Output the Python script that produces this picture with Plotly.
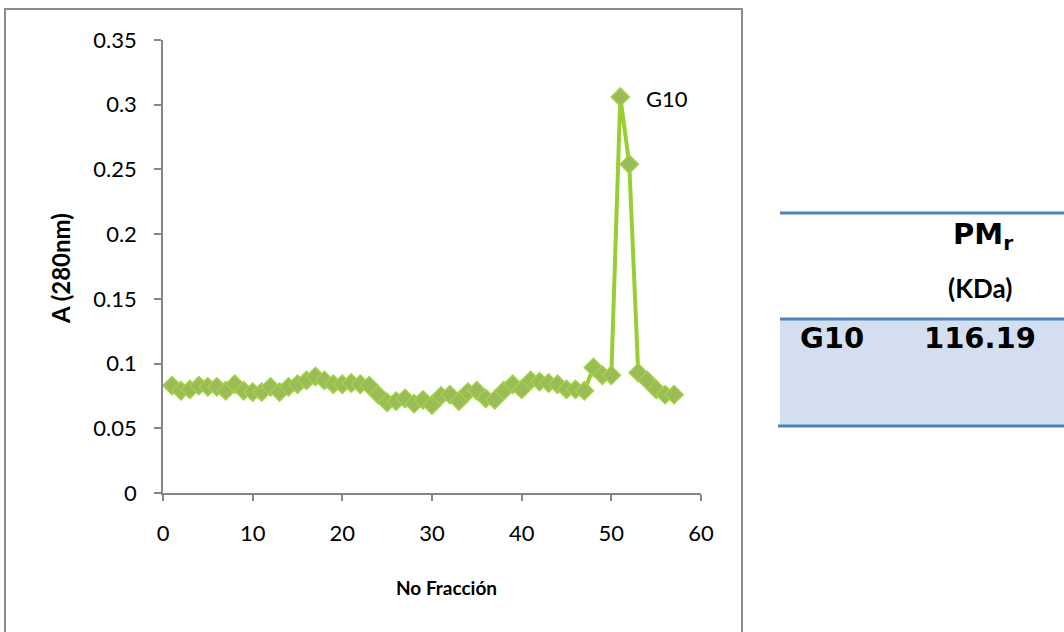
import plotly.graph_objects as go

fractions = list(range(1, 58))
absorbance = [0.083, 0.079, 0.080, 0.083, 0.082, 0.082, 0.079, 0.084, 0.079, 0.078,
              0.078, 0.082, 0.078, 0.082, 0.084, 0.087, 0.090, 0.087, 0.084, 0.084,
              0.085, 0.084, 0.083, 0.076, 0.070, 0.071, 0.073, 0.069, 0.072, 0.068,
              0.075, 0.076, 0.071, 0.078, 0.079, 0.073, 0.072, 0.079, 0.084, 0.080,
              0.087, 0.086, 0.085, 0.084, 0.080, 0.080, 0.079, 0.097, 0.091, 0.091,
              0.306, 0.254, 0.093, 0.087, 0.080, 0.076, 0.076]
peak_label = "G10"
x_title = "No Fracción"
y_title = "A (280nm)"
table_header = ["PM<sub>r</sub>", "(KDa)"]
table_row = ["G10", "116.19"]

# plot area in pixels: x 163..701, y 40..493
L, R, T, B = 163, 701, 40, 493
W, H = 1064, 632

def px(xp):
    return (xp - L) / (R - L)

def py(yp):
    return (B - yp) / (B - T)

fig = go.Figure()
fig.add_trace(go.Scatter(
    x=fractions, y=absorbance, mode="lines+markers",
    line=dict(color="#9ACD32", width=4),
    marker=dict(symbol="diamond", size=14, color="#9BBB59",
                line=dict(color="#A3D143", width=1.5)),
    showlegend=False, cliponaxis=False,
))

lato = "Lato, 'Open Sans', sans-serif"
tick_font = dict(family=lato, size=22, color="#000000")
fig.update_layout(
    width=W, height=H,
    margin=dict(l=L, r=W - R, t=T, b=H - B, pad=0),
    paper_bgcolor="white", plot_bgcolor="white",
    xaxis=dict(range=[0, 60], dtick=10, tick0=0, showgrid=False, zeroline=False,
               showline=True, linecolor="#868686", linewidth=1.5,
               ticks="outside", ticklen=6, tickcolor="#868686", tickwidth=1.5,
               tickfont=tick_font, ticklabelstandoff=14),
    yaxis=dict(range=[0, 0.35], dtick=0.05, tick0=0, showgrid=False, zeroline=False,
               showline=True, linecolor="#868686", linewidth=1.5,
               ticks="outside", ticklen=7, tickcolor="#868686", tickwidth=1.5,
               tickfont=tick_font, ticklabelstandoff=13),
)

shapes = []
# chart border
shapes.append(dict(type="rect", xref="paper", yref="paper",
                   x0=px(5), x1=px(742), y0=py(645), y1=py(9),
                   line=dict(color="#8C8C8C", width=2), fillcolor="rgba(0,0,0,0)",
                   layer="below"))
# table shading and rules
shapes.append(dict(type="rect", xref="paper", yref="paper",
                   x0=px(780), x1=px(1070), y0=py(426), y1=py(319),
                   line=dict(width=0), fillcolor="#D3DFEE", layer="below"))
for yy, x0 in [(213, 780), (319, 780), (426, 778)]:
    shapes.append(dict(type="line", xref="paper", yref="paper",
                       x0=px(x0), x1=px(1070), y0=py(yy), y1=py(yy),
                       line=dict(color="#4F81BD", width=3)))
fig.update_layout(shapes=shapes)

big_font = dict(family="'DejaVu Sans', Verdana, sans-serif", size=29, color="#000000")
small_font = dict(family=lato, size=26, color="#000000")
annotations = [
    dict(text="<b>" + x_title + "</b>", x=px(446), y=py(587), xref="paper", yref="paper",
         xanchor="center", yanchor="middle", showarrow=False,
         font=dict(family=lato, size=19, color="#000000")),
    dict(text="<b>" + y_title + "</b>", x=px(60), y=py(269), xref="paper", yref="paper",
         xanchor="center", yanchor="middle", showarrow=False, textangle=-90,
         font=dict(family=lato, size=24, color="#000000")),
    dict(text=peak_label, x=px(644), y=py(98), xref="paper", yref="paper",
         xanchor="left", yanchor="middle", showarrow=False,
         font=dict(family=lato, size=22, color="#000000")),
    dict(text="<b>" + table_header[0] + "</b>", x=px(983), y=py(236), xref="paper", yref="paper",
         xanchor="center", yanchor="middle", showarrow=False, font=big_font),
    dict(text="<b>" + table_header[1] + "</b>", x=px(980), y=py(288), xref="paper", yref="paper",
         xanchor="center", yanchor="middle", showarrow=False, font=small_font),
    dict(text="<b>" + table_row[0] + "</b>", x=px(832), y=py(338), xref="paper", yref="paper",
         xanchor="center", yanchor="middle", showarrow=False, font=big_font),
    dict(text="<b>" + table_row[1] + "</b>", x=px(980), y=py(338), xref="paper", yref="paper",
         xanchor="center", yanchor="middle", showarrow=False, font=big_font),
]
fig.update_layout(annotations=annotations)

fig.write_html("out.html")
